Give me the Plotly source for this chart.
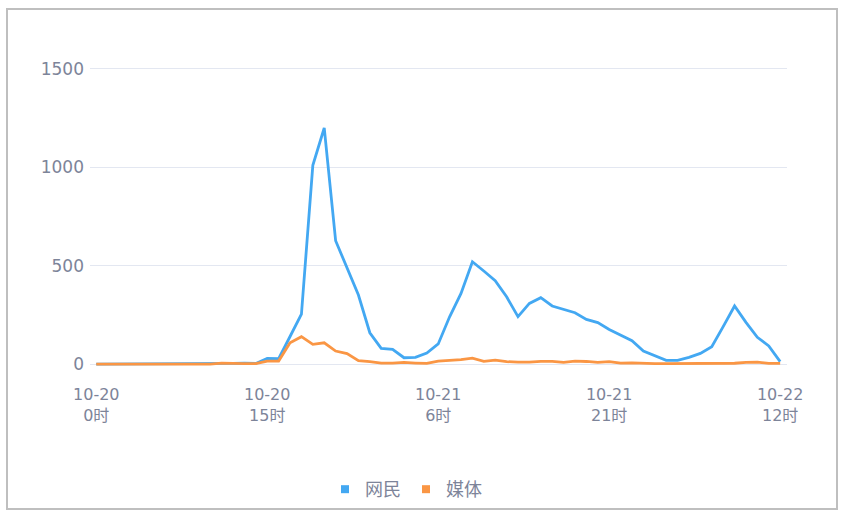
import plotly.graph_objects as go

# time categories: hourly from 10-20 0时 to 10-22 12时
days = ["10-20", "10-21", "10-22"]
categories = []
for d in days:
    for h in range(24):
        categories.append(f"{d} {h}时")
categories = categories[:61]

tick_positions = ["10-20 0时", "10-20 15时", "10-21 6时", "10-21 21时", "10-22 12时"]
tick_labels = ["10-20<br>0时", "10-20<br>15时", "10-21<br>6时", "10-21<br>21时", "10-22<br>12时"]

netizens = [0, 0, 0, 0, 0, 0, 0, 0, 0, 0,
            0, 2, 3, 4, 3, 29, 27, 140, 254, 1010,
            1200, 627, 490, 351, 159, 80, 75, 32, 34, 56,
            102, 240, 359, 520, 473, 424, 342, 241, 308, 337,
            295, 278, 261, 227, 211, 176, 146, 119, 66, 44,
            19, 19, 34, 54, 88, 190, 295, 212, 136, 92,
            12]
media = [0, 0, 0, 0, 0, 0, 0, 0, 0, 0,
         0, 5, 2, 2, 2, 15, 15, 108, 139, 100,
         108, 66, 53, 17, 12, 5, 5, 8, 5, 3,
         15, 18, 22, 30, 14, 20, 12, 10, 10, 14,
         14, 8, 15, 13, 8, 12, 5, 6, 3, 2,
         2, 2, 2, 2, 2, 3, 4, 8, 10, 3,
         3]

series_names = ["网民", "媒体"]
colors = ["#43a8f2", "#fa9644"]

font_family = "DejaVu Sans, Noto Sans CJK SC, sans-serif"
tick_color = "#7d8499"

fig = go.Figure()
for name, vals, col in zip(series_names, [netizens, media], colors):
    fig.add_trace(go.Scatter(x=categories, y=vals, mode="lines", name=name,
                             line=dict(color=col, width=2.8), showlegend=False,
                             legendgroup=name, hoverinfo="x+y"))
    fig.add_trace(go.Scatter(x=[None], y=[None], mode="markers", name=name,
                             marker=dict(symbol="square", size=8, color=col),
                             legendgroup=name, showlegend=True))

fig.update_layout(
    width=846, height=518,
    margin=dict(l=90, r=59, t=67, b=152, autoexpand=False),
    paper_bgcolor="white", plot_bgcolor="white",
    font=dict(family=font_family, color=tick_color, size=16),
    xaxis=dict(type="category", categoryorder="array", categoryarray=categories,
               range=[-0.55, 60.6], tickmode="array", tickvals=tick_positions,
               ticktext=tick_labels, showgrid=False, zeroline=False, showline=False,
               ticks="", ticklabelstandoff=17, automargin=False,
               tickfont=dict(size=16, color=tick_color)),
    yaxis=dict(range=[-10, 1510], tickvals=[0, 500, 1000, 1500],
               showgrid=True, gridcolor="#e3e7f1", gridwidth=1, zeroline=False,
               showline=False, ticks="", ticklabelstandoff=5, automargin=False,
               tickfont=dict(size=17, color=tick_color)),
    legend=dict(orientation="h", x=(325 - 90) / 697, xanchor="left", y=-0.413,
                yanchor="middle", font=dict(family="Noto Sans CJK SC, sans-serif",
                                            size=18, color=tick_color),
                itemwidth=30, bgcolor="rgba(0,0,0,0)"),
    shapes=[dict(type="rect", xref="paper", yref="paper",
                 x0=(7 - 90) / 697, x1=(837 - 90) / 697,
                 y0=(366 - 509) / 299, y1=(366 - 9) / 299,
                 line=dict(color="#bfbfbf", width=2), fillcolor="rgba(0,0,0,0)",
                 layer="below")],
)

fig.write_html("out.html", config={"displayModeBar": False},
               post_script="document.body.style.margin='0';document.body.style.overflow='hidden';")
